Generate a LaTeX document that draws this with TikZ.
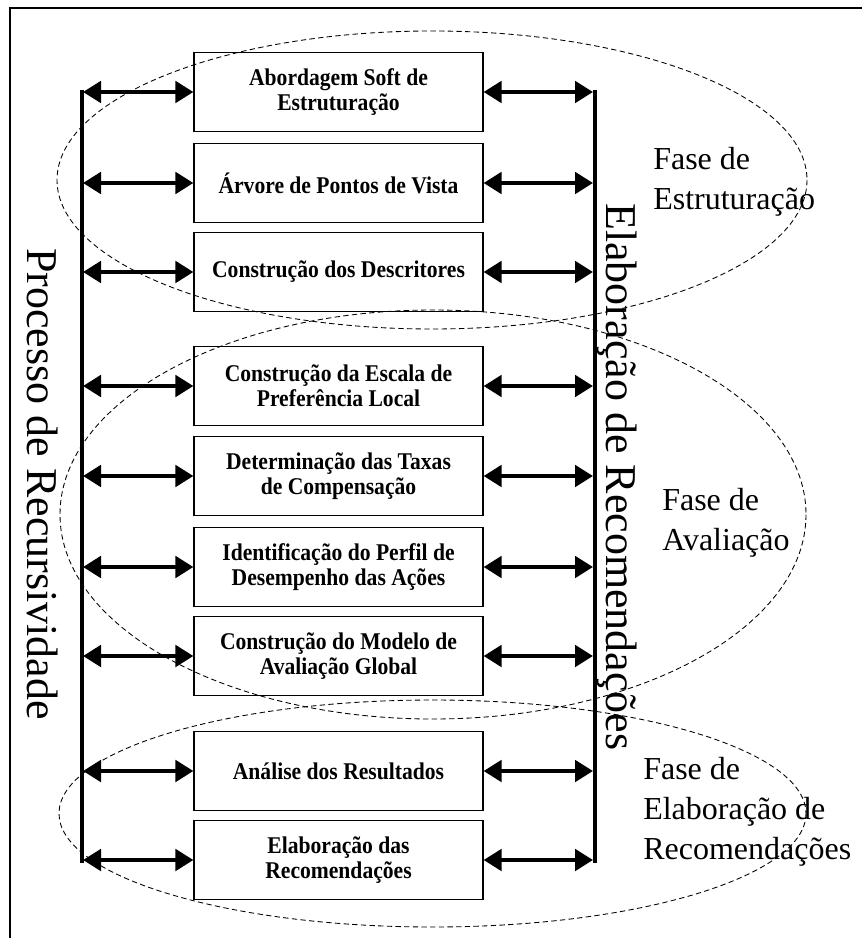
\documentclass[tikz,border=0pt]{standalone}
\usepackage{fontspec}
\setmainfont{Liberation Serif}
\newfontfamily\stagefont{Liberation Serif}[FakeStretch=0.9]
\usetikzlibrary{arrows.meta}
\begin{document}
\begin{tikzpicture}[x=0.75pt,y=-0.75pt,
  stagebox/.style={draw, line width=0.9pt, minimum width=216.75pt, minimum height=59.25pt,
    inner sep=0pt, align=center, font=\stagefont\bfseries\fontsize{18}{19}\selectfont},
  link/.style={line width=3pt, {Triangle[length=13.5pt,width=16pt]}-{Triangle[length=13.5pt,width=16pt]}},
  bar/.style={line width=3pt},
  phase/.style={line width=0.65pt, dash pattern=on 4pt off 2.5pt},
  phaselabel/.style={anchor=north west, inner sep=0pt, align=left, font=\fontsize{24}{30}\selectfont},
  sidelabel/.style={rotate=-90, anchor=base west, inner sep=0pt, font=\fontsize{33}{40}\selectfont}]

\useasboundingbox (0,0) rectangle (862,938);
\draw[line width=0.9pt] (10,938) -- (10,8) -- (862,8);

% boxes
\node[stagebox] (b1) at (338.5,92)  {Abordagem Soft de\\Estruturação};
\node[stagebox] (b2) at (338.5,183) {Árvore de Pontos de Vista};
\node[stagebox] (b3) at (338.5,272) {Construção dos Descritores};
\node[stagebox] (b4) at (338.5,386) {Construção da Escala de\\Preferência Local};
\node[stagebox] (b5) at (338.5,476) {Determinação das Taxas\\de Compensação};
\node[stagebox] (b6) at (338.5,567) {Identificação do Perfil de\\Desempenho das Ações};
\node[stagebox] (b7) at (338.5,656) {Construção do Modelo de\\Avaliação Global};
\node[stagebox] (b8) at (338.5,771) {Análise dos Resultados};
\node[stagebox] (b9) at (338.5,860) {Elaboração das\\Recomendações};

% bars
\coordinate (LT) at (81.5,90);
\coordinate (LB) at (81.5,863);
\coordinate (RT) at (595,90);
\coordinate (RB) at (595,863);
\draw[bar] (LT) -- (LB);
\draw[bar] (RT) -- (RB);

% arrows
\foreach \i in {1,...,9}{
  \coordinate (L\i) at (b\i.west -| 83,0);
  \coordinate (R\i) at (b\i.east -| 593,0);
  \draw[link] (L\i) -- (b\i.west);
  \draw[link] (b\i.east) -- (R\i);
}

% phase ellipses
\draw[phase] (432,180) ellipse [x radius=375, y radius=149];
\draw[phase] (433,514.5) ellipse [x radius=373, y radius=204.5];
\draw[phase] (432.5,813.5) ellipse [x radius=373.5, y radius=113.5];

% labels
\node[phaselabel] (f1) at (653,147) {Fase de\\Estruturação};
\node[phaselabel] (f2) at (662,488) {Fase de\\Avaliação};
\node[phaselabel] (f3) at (643,757) {Fase de\\Elaboração de\\Recomendações};

\node[sidelabel] (proc) at (27,248) {Processo de Recursividade};
\node[sidelabel] (elab) at (606,203) {Elaboração de Recomendações};
\end{tikzpicture}
\end{document}
